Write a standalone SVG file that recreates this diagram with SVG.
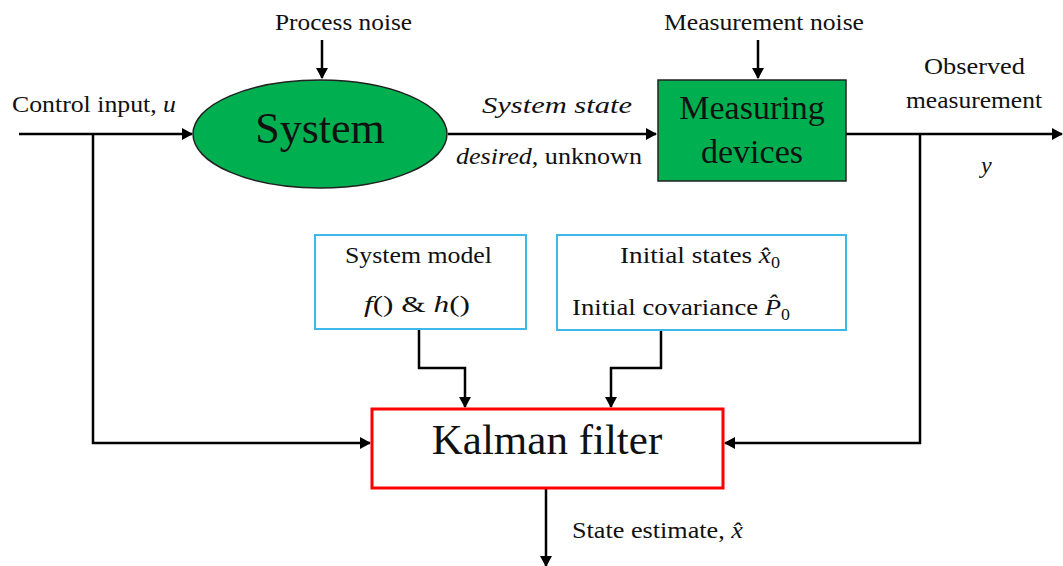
<svg xmlns="http://www.w3.org/2000/svg" width="1063" height="566" viewBox="0 0 1063 566" font-family="Liberation Serif, Times New Roman, serif">
<style>
text{font-family:"Liberation Serif","Times New Roman",serif;fill:#111}
.lbl{font-size:24px}
.it{font-style:italic}
.big{font-size:44px}
.line{fill:none;stroke:#000;stroke-width:2.5}
.cyan{fill:#fff;stroke:#3cb9ea;stroke-width:2}
</style>
<defs>
<marker id="ah" markerWidth="12" markerHeight="12" refX="10" refY="6" orient="auto" markerUnits="userSpaceOnUse">
<path d="M0,0 L11,6 L0,12 Z" fill="#000"/>
</marker>
</defs>
<rect width="1063" height="566" fill="#fff"/>

<g id="connectors">
<path class="line" d="M19,134 H192" marker-end="url(#ah)"/>
<path class="line" d="M93,134 V443 H370" marker-end="url(#ah)"/>
<path class="line" d="M322,40 V78" marker-end="url(#ah)"/>
<path class="line" d="M448,134 H656" marker-end="url(#ah)"/>
<path class="line" d="M758,40 V78" marker-end="url(#ah)"/>
<path class="line" d="M846,134 H1062" marker-end="url(#ah)"/>
<path class="line" d="M920,134 V443 H725" marker-end="url(#ah)"/>
<path class="line" d="M419,329 V368 H465 V407" marker-end="url(#ah)"/>
<path class="line" d="M661,330 V368 H611 V407" marker-end="url(#ah)"/>
<path class="line" d="M546,488 V566" marker-end="url(#ah)"/>
</g>

<g id="labels">
<text class="lbl" x="275" y="30" textLength="137" lengthAdjust="spacingAndGlyphs">Process noise</text>
<text class="lbl" x="664" y="30" textLength="200" lengthAdjust="spacingAndGlyphs">Measurement noise</text>
<text class="lbl" x="12" y="112" textLength="164" lengthAdjust="spacingAndGlyphs">Control input, <tspan class="it">u</tspan></text>
<text class="lbl it" x="482" y="113" textLength="150" lengthAdjust="spacingAndGlyphs">System state</text>
<text class="lbl" x="456" y="164" textLength="186" lengthAdjust="spacingAndGlyphs"><tspan class="it">desired</tspan>, unknown</text>
<text class="lbl" x="924" y="74" textLength="101" lengthAdjust="spacingAndGlyphs">Observed</text>
<text class="lbl" x="906" y="108" textLength="136" lengthAdjust="spacingAndGlyphs">measurement</text>
<text class="lbl it" x="981" y="173">y</text>
<text class="lbl" x="572" y="538" textLength="171" lengthAdjust="spacingAndGlyphs">State estimate, <tspan class="it">x̂</tspan></text>
</g>

<g id="system">
<ellipse cx="320" cy="134" rx="127" ry="54" fill="#00b050" stroke="#222" stroke-width="1.5"/>
<text class="big" x="320" y="143" text-anchor="middle">System</text>
</g>

<g id="measuring">
<rect x="658" y="80" width="188" height="101" fill="#00b050" stroke="#222" stroke-width="1.5"/>
<text x="752" y="119" font-size="34" text-anchor="middle">Measuring</text>
<text x="752" y="163" font-size="34" text-anchor="middle">devices</text>
</g>

<g id="system-model">
<rect class="cyan" x="315" y="235" width="211" height="94"/>
<text class="lbl" x="345" y="263" textLength="147" lengthAdjust="spacingAndGlyphs">System model</text>
<text class="lbl" x="364" y="312" textLength="106" lengthAdjust="spacingAndGlyphs"><tspan class="it">f</tspan>() &amp; <tspan class="it">h</tspan>()</text>
</g>

<g id="initial">
<rect class="cyan" x="557" y="235" width="289" height="95"/>
<text class="lbl" x="620" y="263" textLength="160" lengthAdjust="spacingAndGlyphs">Initial states <tspan class="it">x̂</tspan><tspan font-size="16" dy="5">0</tspan></text>
<text class="lbl" x="572" y="315" textLength="218" lengthAdjust="spacingAndGlyphs">Initial covariance <tspan class="it">P̂</tspan><tspan font-size="16" dy="5">0</tspan></text>
</g>

<g id="kalman">
<rect x="372" y="409" width="351" height="79" fill="#fff" stroke="#ff0000" stroke-width="3"/>
<text x="547" y="454" font-size="43" text-anchor="middle">Kalman filter</text>
</g>
</svg>
